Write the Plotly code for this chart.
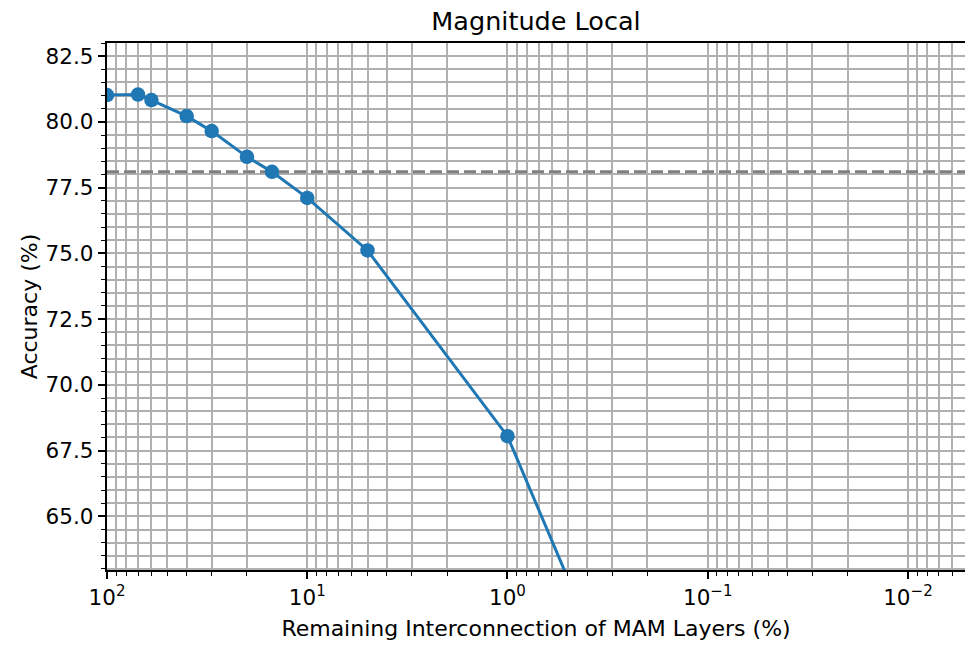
import numpy as np
import plotly.graph_objects as go

# Remaining interconnection (%) and resulting accuracy (%)
remaining = [100, 70, 60, 40, 30, 20, 15, 10, 5, 1, 0.5]
accuracy = [81.02, 81.04, 80.83, 80.22, 79.65, 78.67, 78.10, 77.11, 75.11, 68.05, 62.65]

# Reference accuracy level shown as a dashed horizontal line
reference_acc = 78.1

# Axis extents
x_limits = [100, 0.00519]
y_limits = [62.96, 83.0]

# Decade tick labels
x_major = [100, 10, 1, 0.1, 0.01]
x_major_text = ["10<sup>2</sup>", "10<sup>1</sup>", "10<sup>0</sup>",
                "10<sup>\u22121</sup>", "10<sup>\u22122</sup>"]

BLUE = "#1f77b4"
GRID = "#b0b0b0"
FONT = "DejaVu Sans"
TICK_SIZE = 21.5
LABEL_SIZE = 22
TITLE_SIZE = 25.5

# minor log ticks: 2..9 within each decade
x_minor = [k * 10.0 ** d for d in range(-3, 2) for k in range(2, 10)]

fig = go.Figure()

fig.add_trace(go.Scatter(
    x=[x_limits[0], x_limits[1]],
    y=[reference_acc, reference_acc],
    mode="lines",
    line=dict(color="#808080", width=3.0, dash="12px,5px"),
    hoverinfo="skip",
    showlegend=False,
))

fig.add_trace(go.Scatter(
    x=remaining,
    y=accuracy,
    mode="lines+markers",
    line=dict(color=BLUE, width=3.0),
    marker=dict(color=BLUE, size=14.5),
    showlegend=False,
))

fig.update_layout(
    width=965,
    height=648,
    margin=dict(l=107, r=0, t=43, b=78),
    paper_bgcolor="white",
    plot_bgcolor="white",
    font=dict(family=FONT, size=TICK_SIZE, color="black"),
    title=dict(
        text="Magnitude Local",
        x=0.5, xref="paper", xanchor="center",
        y=1 - 21 / 648, yref="container", yanchor="middle",
        font=dict(family=FONT, size=TITLE_SIZE, color="black"),
    ),
)

fig.update_xaxes(
    type="log",
    range=[np.log10(x_limits[0]), np.log10(x_limits[1])],
    tickmode="array",
    tickvals=x_major,
    ticktext=x_major_text,
    ticks="outside",
    ticklen=7.5,
    tickwidth=1.5,
    tickcolor="black",
    showline=True,
    mirror=True,
    linecolor="black",
    linewidth=1.5,
    showgrid=True,
    gridcolor=GRID,
    gridwidth=1.5,
    zeroline=False,
    tickfont=dict(family=FONT, size=TICK_SIZE, color="black"),
    title=dict(text="Remaining Interconnection of MAM Layers (%)",
               font=dict(family=FONT, size=LABEL_SIZE, color="black"), standoff=12),
    minor=dict(
        tickmode="array",
        tickvals=x_minor,
        ticks="outside",
        ticklen=4.3,
        tickwidth=1.2,
        tickcolor="black",
        showgrid=True,
        gridcolor=GRID,
        gridwidth=1.5,
    ),
)

fig.update_yaxes(
    range=y_limits,
    tick0=0,
    dtick=2.5,
    tickformat=".1f",
    ticks="outside",
    ticklen=7.5,
    tickwidth=1.5,
    tickcolor="black",
    showline=True,
    mirror=False,
    linecolor="black",
    linewidth=1.5,
    showgrid=True,
    gridcolor=GRID,
    gridwidth=1.5,
    zeroline=False,
    tickfont=dict(family=FONT, size=TICK_SIZE, color="black"),
    title=dict(text="Accuracy (%)",
               font=dict(family=FONT, size=LABEL_SIZE, color="black"), standoff=2),
    minor=dict(
        tick0=0,
        dtick=0.5,
        ticks="outside",
        ticklen=4.3,
        tickwidth=1.2,
        tickcolor="black",
        showgrid=True,
        gridcolor=GRID,
        gridwidth=1.5,
    ),
)

fig.write_html("out.html")
